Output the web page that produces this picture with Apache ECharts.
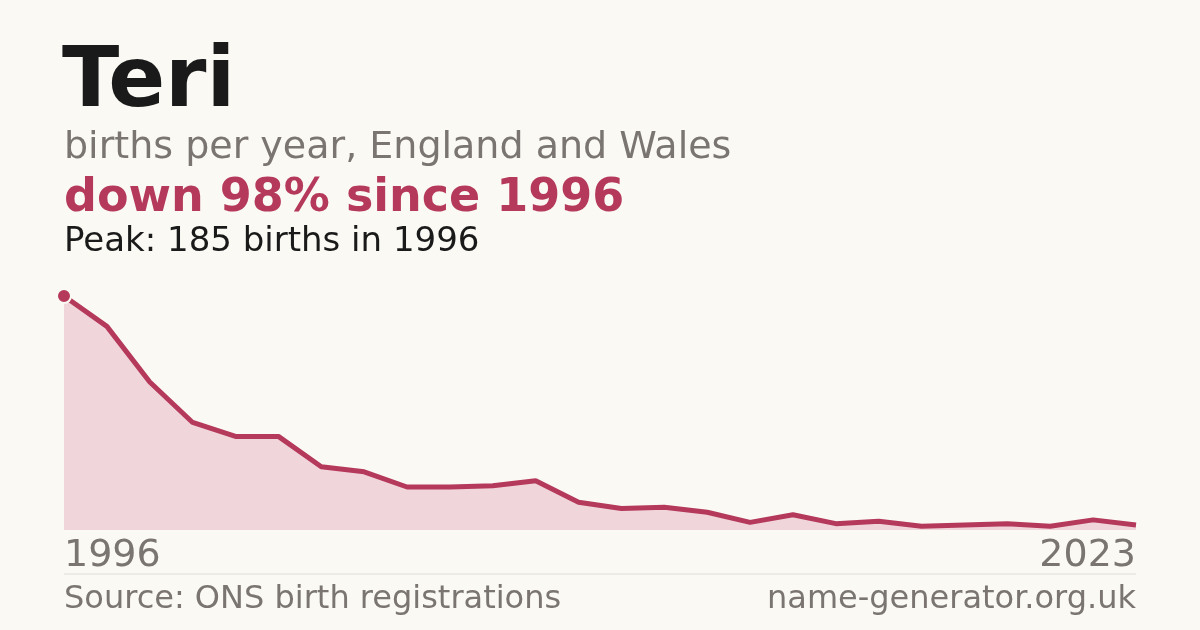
<!DOCTYPE html>
<html><head><meta charset="utf-8">
<script src="https://cdn.jsdelivr.net/npm/echarts@6/dist/echarts.min.js"></script>
<style>html,body{margin:0;padding:0;background:#faf9f4}#c{width:1200px;height:630px}</style>
</head><body><div id="c"></div>
<script>
const years = ['1996','1997','1998','1999','2000','2001','2002','2003','2004','2005','2006','2007','2008','2009','2010','2011','2012','2013','2014','2015','2016','2017','2018','2019','2022','2023'];
const births = [185,161,117,85,74,74,50,46,34,34,35,39,22,17,18,14,6,12,5,7,3,4,5,3,8,4];
const firstLabel = '1996', lastLabel = '2023';
const F = 'DejaVu Sans';
const chart = echarts.init(document.getElementById('c'));
function t(x,y,text,size,color,weight,align){return {type:'text',left:undefined,x:x,y:y,style:{text:text,font:(weight||'normal')+' '+size+'px "'+F+'"',fill:color,textAlign:align||'left',textVerticalAlign:'middle'}};}
chart.setOption({
  backgroundColor:'#faf9f4',
  animation:false,
  grid:{left:64,right:64,top:296,bottom:100},
  xAxis:{type:'category',data:years,boundaryGap:false,show:false},
  yAxis:{type:'value',min:0,max:185,show:false},
  series:[{type:'line',data:births,smooth:false,
    lineStyle:{color:'#b5395a',width:5},
    areaStyle:{color:'#f0d5da',opacity:1},
    symbol:'none',
    markPoint:{symbol:'circle',symbolSize:14,itemStyle:{color:'#b5395a',borderColor:'#faf9f4',borderWidth:2},label:{show:false},data:[{coord:[0,births[0]]}]}
  }],
  graphic:[
    t(62,84,'Teri',84,'#1a1a1a','bold'),
    t(64,148,'births per year, England and Wales',38,'#7a7570'),
    t(64,199,'down 98% since 1996',46,'#b5395a','bold'),
    t(64,242,'Peak: 185 births in 1996',34,'#1a1a1a'),
    t(64,556,firstLabel,38,'#7a7570'),
    t(1136,556,lastLabel,38,'#7a7570','normal','right'),
    {type:'line',shape:{x1:64,y1:574,x2:1136,y2:574},style:{stroke:'#e0ddd8',lineWidth:1}},
    t(64,600,'Source: ONS birth registrations',32,'#7a7570'),
    t(1136,600,'name-generator.org.uk',32,'#7a7570','normal','right')
  ]
});
</script></body></html>
